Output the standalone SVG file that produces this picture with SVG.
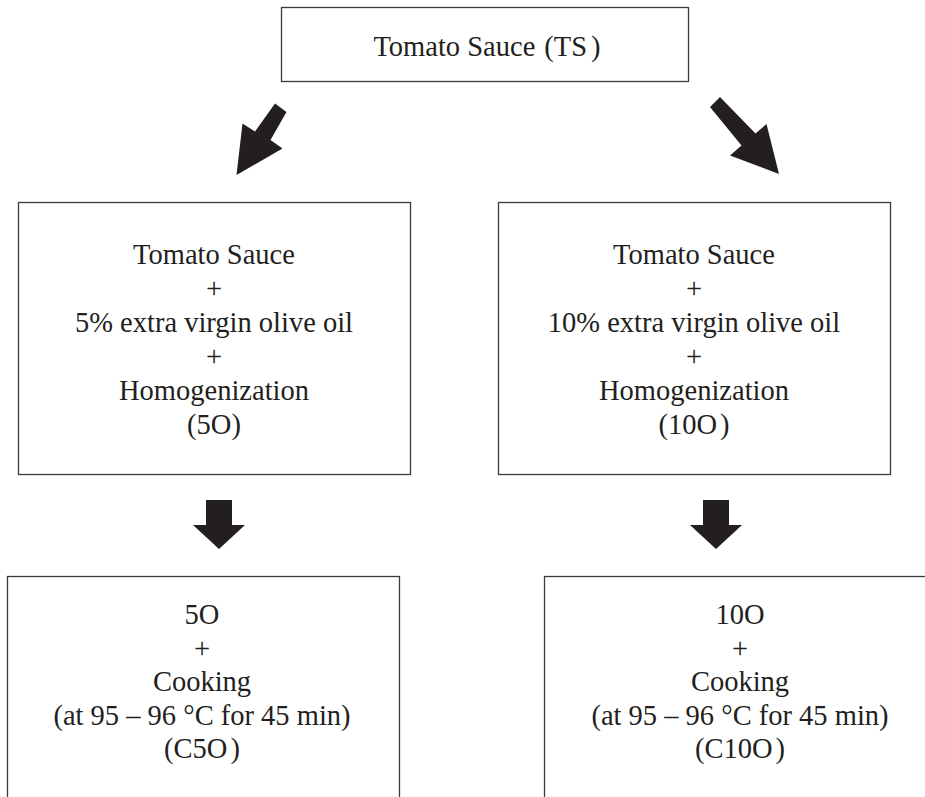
<svg xmlns="http://www.w3.org/2000/svg" width="925" height="797" viewBox="0 0 925 797">
<style>
.box{fill:#fff;stroke:#3c3a3b;stroke-width:1.3}
.t{font-family:"Liberation Serif","Times New Roman",serif;font-size:28.5px;fill:#231f20;text-anchor:middle}
.arr{fill:#231f20}
</style>
<rect width="925" height="797" fill="#fff"/>
<g id="ts">
<rect class="box" x="281.5" y="7.5" width="407" height="74"/>
<text class="t" x="487" y="56">Tomato Sauce<tspan dx="9">(TS</tspan><tspan dx="4">)</tspan></text>
</g>
<g id="o5">
<rect class="box" x="18.5" y="202.5" width="392" height="272"/>
<text class="t" x="214" y="264">Tomato Sauce</text>
<text class="t" x="214" y="298">+</text>
<text class="t" x="214" y="332">5% extra virgin olive oil</text>
<text class="t" x="214" y="366">+</text>
<text class="t" x="214" y="400">Homogenization</text>
<text class="t" x="214" y="434">(5O)</text>
</g>
<g id="o10">
<rect class="box" x="498.5" y="202.5" width="392" height="272"/>
<text class="t" x="694" y="264">Tomato Sauce</text>
<text class="t" x="694" y="298">+</text>
<text class="t" x="694" y="332">10% extra virgin olive oil</text>
<text class="t" x="694" y="366">+</text>
<text class="t" x="694" y="400">Homogenization</text>
<text class="t" x="694" y="434">(10O<tspan dx="3">)</tspan></text>
</g>
<g id="c5o">
<rect class="box" x="7.5" y="576.5" width="392" height="240"/>
<text class="t" x="202" y="624">5O</text>
<text class="t" x="202" y="658">+</text>
<text class="t" x="202" y="691">Cooking</text>
<text class="t" x="202" y="725">(at 95 – 96 °C for 45 min)</text>
<text class="t" x="202" y="758">(C5O<tspan dx="3">)</tspan></text>
</g>
<g id="c10o">
<rect class="box" x="544.5" y="576.5" width="400" height="240"/>
<text class="t" x="740" y="624">10O</text>
<text class="t" x="740" y="658">+</text>
<text class="t" x="740" y="691">Cooking</text>
<text class="t" x="740" y="725">(at 95 – 96 °C for 45 min)</text>
<text class="t" x="740" y="758">(C10O<tspan dx="3">)</tspan></text>
</g>
<g id="connectors">
<polygon class="arr" points="275,103.5 286.5,112 270.5,140 282.5,148.5 236.5,175 242.5,123.5 255,131.5"/>
<polygon class="arr" points="720,97 755.5,133.5 766.5,124 779,174 730,155.5 741.5,145.5 710,107"/>
<polygon class="arr" points="206,500 232,500 232,525 245,525 219,549 193,525 206,525"/>
<polygon class="arr" points="703,500 729,500 729,525 742,525 716,549 690,525 703,525"/>
</g>
</svg>
